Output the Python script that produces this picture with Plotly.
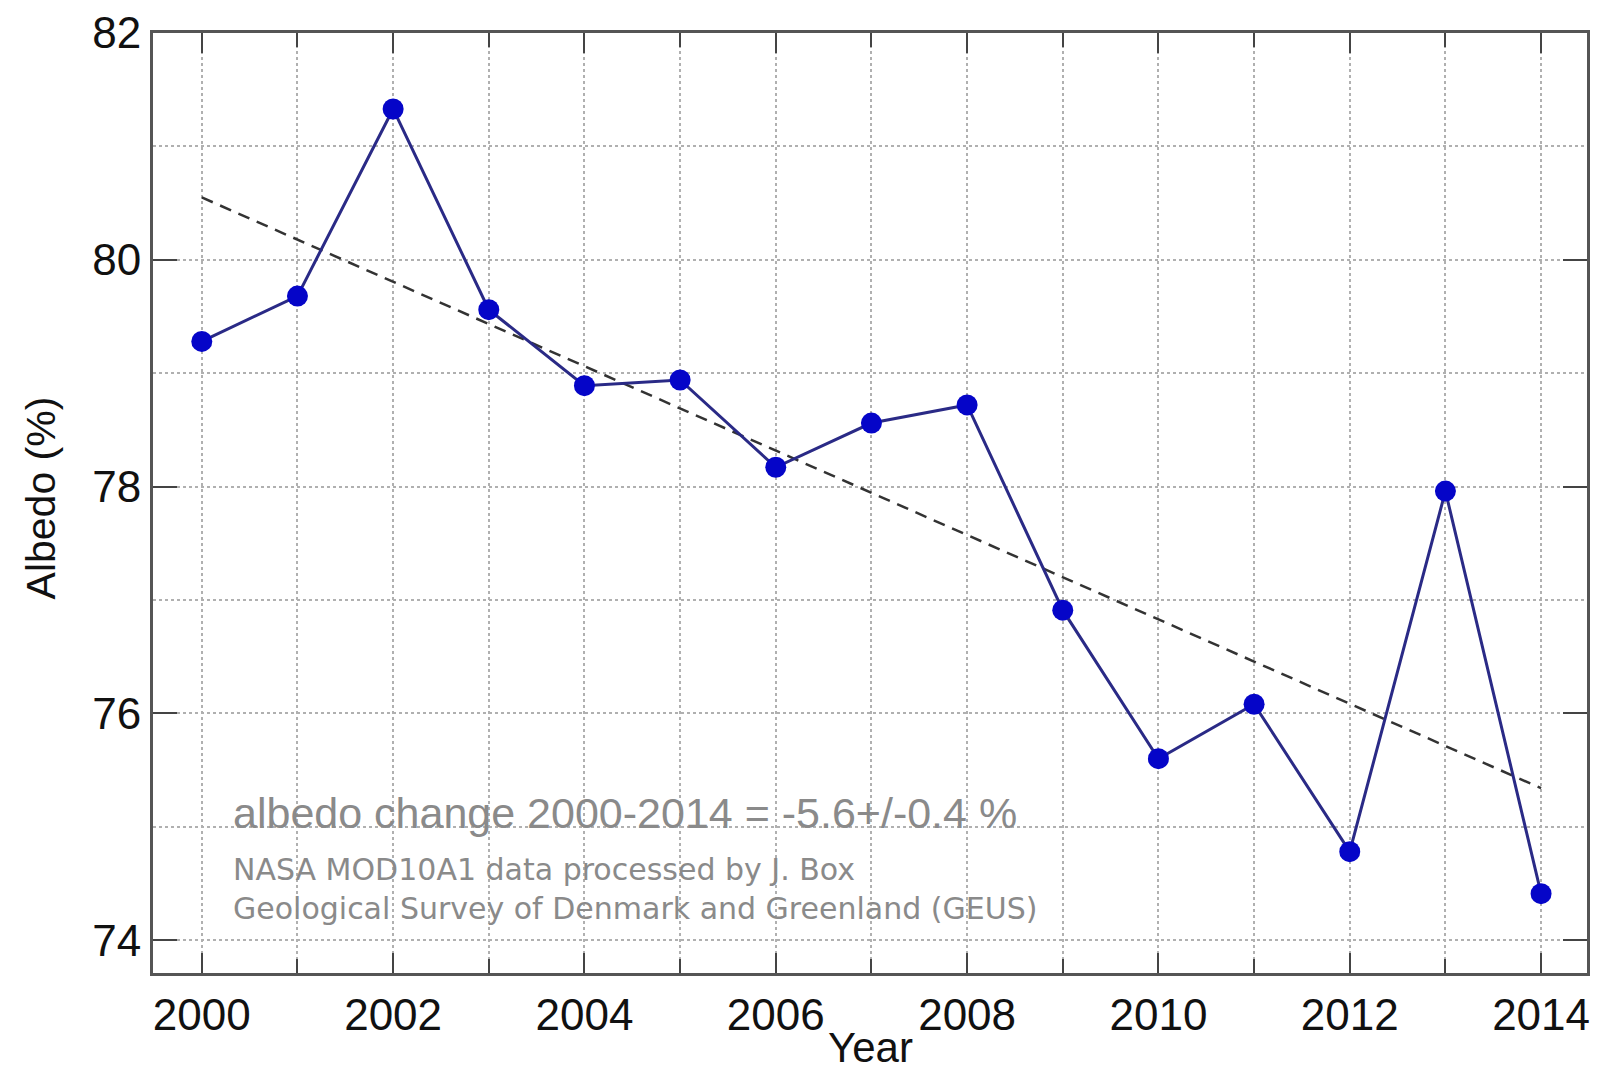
import plotly.graph_objects as go

years = list(range(2000, 2015))
albedo = [79.28, 79.68, 81.33, 79.56, 78.89, 78.94, 78.17, 78.56, 78.72,
          76.91, 75.60, 76.08, 74.78, 77.96, 74.41]
trend_years = [2000, 2014]
trend_values = [80.55, 75.34]

x_ticks = [2000, 2002, 2004, 2006, 2008, 2010, 2012, 2014]
y_ticks = [74, 76, 78, 80, 82]

change_text = "albedo change 2000-2014 = -5.6+/-0.4 %"
source_lines = ["NASA MOD10A1 data processed by J. Box",
                "Geological Survey of Denmark and Greenland (GEUS)"]
x_title = "Year"
y_title = "Albedo (%)"

FONT = "Liberation Sans, Arial, Helvetica"

fig = go.Figure()

fig.add_trace(go.Scatter(
    x=trend_years, y=trend_values, mode="lines",
    line=dict(color="#333333", width=2.5, dash="12px,8px"),
    showlegend=False, hoverinfo="skip"))

fig.add_trace(go.Scatter(
    x=years, y=albedo, mode="lines+markers",
    line=dict(color="#2a2a86", width=3),
    marker=dict(color="#0505c8", size=21, line=dict(width=0)),
    showlegend=False))

grid = dict(showgrid=True, gridcolor="#b0b0b0", griddash="dot", gridwidth=1.5)

fig.update_xaxes(
    range=[1999.49, 2014.48], tickvals=x_ticks,
    ticks="inside", ticklen=20, tickwidth=2, tickcolor="#444",
    showline=True, linecolor="#555", linewidth=3, mirror="ticks",
    tickfont=dict(family=FONT, size=44, color="#111"),
    ticklabelstandoff=1,
    minor=dict(dtick=1, tick0=2000, ticks="inside", ticklen=14, tickwidth=2,
               tickcolor="#444", showgrid=True, gridcolor="#b0b0b0",
               griddash="dot", gridwidth=1.5),
    zeroline=False,
    **grid)

fig.update_yaxes(
    range=[73.71, 82.0], tickvals=y_ticks,
    ticks="inside", ticklen=24, tickwidth=2, tickcolor="#444",
    showline=True, linecolor="#555", linewidth=3, mirror="ticks",
    tickfont=dict(family=FONT, size=44, color="#111"),
    ticklabeloverflow="allow",
    minor=dict(dtick=1, tick0=74, ticks="", showgrid=True, gridcolor="#b0b0b0",
               griddash="dot", gridwidth=1.5),
    zeroline=False,
    **grid)

# axis titles
fig.add_annotation(x=0.5, y=-0.1062, xref="paper", yref="paper", text=x_title,
                   showarrow=False, xanchor="center", yanchor="bottom",
                   font=dict(family=FONT, size=42, color="#111"))
fig.add_annotation(x=-0.078, y=0.505, xref="paper", yref="paper", text=y_title,
                   showarrow=False, xanchor="center", yanchor="middle", textangle=-90,
                   font=dict(family=FONT, size=41, color="#111"))

# in-plot notes
fig.add_annotation(x=2000.31, y=75.12, xref="x", yref="y", text=change_text,
                   showarrow=False, xanchor="left", yanchor="middle",
                   font=dict(family=FONT, size=43, color="#8a8a8a"))
fig.add_annotation(x=2000.31, y=74.45, xref="x", yref="y",
                   text="<br>".join(source_lines), align="left",
                   showarrow=False, xanchor="left", yanchor="middle",
                   font=dict(family="DejaVu Sans", size=30, color="#8a8a8a"))

fig.update_layout(
    width=1598, height=1074,
    margin=dict(l=153, r=8, t=20, b=101),
    plot_bgcolor="white", paper_bgcolor="white")

fig.write_html("out.html")
